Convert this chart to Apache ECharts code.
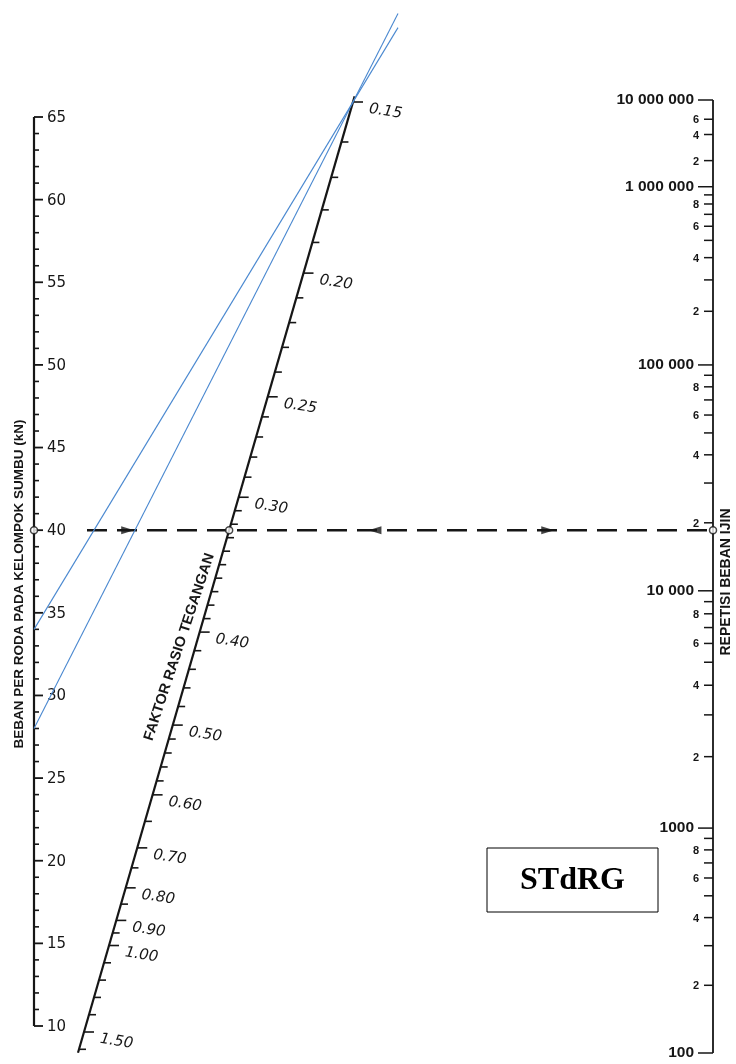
<!DOCTYPE html>
<html>
<head>
<meta charset="utf-8">
<script src="https://cdn.jsdelivr.net/npm/echarts@6/dist/echarts.min.js"></script>
<style>
  html, body { margin: 0; padding: 0; background: #ffffff; }
  #chart { width: 736px; height: 1064px; }
</style>
</head>
<body>
<div id="chart"></div>
<script>
// ---- values shown on the three nomogram scales ----
const loadLabels = [10, 15, 20, 25, 30, 35, 40, 45, 50, 55, 60, 65];          // kN
const ratioLabels = [0.15, 0.20, 0.25, 0.30, 0.40, 0.50, 0.60, 0.70, 0.80, 0.90, 1.00, 1.50];
const ratioMinor = [0.16, 0.17, 0.18, 0.19, 0.21, 0.22, 0.23, 0.24, 0.26, 0.27, 0.28, 0.29,
                    0.31, 0.32, 0.33, 0.34, 0.35, 0.36, 0.37, 0.38, 0.39,
                    0.42, 0.44, 0.46, 0.48, 0.52, 0.54, 0.56, 0.58,
                    0.65, 0.75, 0.85, 0.95, 1.1, 1.2, 1.3, 1.4, 1.6];
const repDecades = [100, 1000, 10000, 100000, 1000000, 10000000];
const repDecadeLabels = ['100', '1000', '10 000', '100 000', '1 000 000', '10 000 000'];
const repSubTicks = [2, 3, 4, 5, 6, 7, 8, 9];
const repSubLabels = [2, 4, 6, 8];
const repTopSubTicks = [2, 4, 6];

// ---- worked reading and guide lines ----
const readingLoad = 40;            // kN, read across horizontally
const guideLoads = [34, 28];       // kN, lines through the 0.15 point
const guidePivotRatio = 0.15;

// ---- scale geometry on the sheet ----
const INK = '#161616';
const loadScale = { x: 34, top: 117, bottom: 1026, min: 10, max: 65 };
const ratioScale = {
  from: [353, 102], to: [84, 1032],
  // stress-ratio value -> fraction of the scale length (non-linear scale)
  knots: [[0.15, 0], [0.16, 0.043], [0.17, 0.081], [0.18, 0.116], [0.19, 0.151], [0.20, 0.184],
          [0.25, 0.317], [0.30, 0.425], [0.40, 0.570], [0.50, 0.670], [0.60, 0.745],
          [0.70, 0.802], [0.80, 0.845], [0.90, 0.880], [1.00, 0.907], [1.50, 1.0]]
};
const repScale = { x: 713, top: 100, bottom: 1053, decadeStops: [0, 0.236, 0.485, 0.722, 0.909, 1] };

function loadPos(v) {
  const t = (v - loadScale.min) / (loadScale.max - loadScale.min);
  return [loadScale.x, loadScale.bottom + t * (loadScale.top - loadScale.bottom)];
}
function ratioFrac(v) {
  const k = ratioScale.knots;
  let i = 0;
  while (i < k.length - 2 && v > k[i + 1][0]) i++;
  const a = k[i], b = k[i + 1];
  return a[1] + (v - a[0]) / (b[0] - a[0]) * (b[1] - a[1]);
}
function ratioAt(f) {
  const p = ratioScale.from, q = ratioScale.to;
  return [p[0] + f * (q[0] - p[0]), p[1] + f * (q[1] - p[1])];
}
function ratioPos(v) { return ratioAt(ratioFrac(v)); }
function ratioAxisAtY(y) {
  const p = ratioScale.from, q = ratioScale.to;
  return [p[0] + (y - p[1]) / (q[1] - p[1]) * (q[0] - p[0]), y];
}
function repPos(n) {
  const lg = Math.log10(n) - Math.log10(repDecades[0]);
  const i = Math.min(Math.floor(lg + 1e-9), repScale.decadeStops.length - 2);
  const s = repScale.decadeStops;
  const f = s[i] + (lg - i) * (s[i + 1] - s[i]);
  return [repScale.x, repScale.bottom - f * (repScale.bottom - repScale.top)];
}

// ---- tick lists ----
const loadTicks = [];
for (let v = loadLabels[0]; v <= loadLabels[loadLabels.length - 1]; v++) loadTicks.push([v]);

const ratioTicks = ratioLabels.map(v => [v, 1]).concat(ratioMinor.map(v => [v, 0]));

const repTicks = [];
repDecades.forEach((d, i) => {
  repTicks.push([d, 2, repDecadeLabels[i]]);
  if (i === repDecades.length - 1) return;
  const subs = i === repDecades.length - 2 ? repTopSubTicks : repSubTicks;
  subs.forEach(m => repTicks.push([d * m, repSubLabels.indexOf(m) >= 0 ? 1 : 0, String(m)]));
});

// ---- renderers ----
function loadTickItem(params, api) {
  const v = api.value(0);
  const p = api.coord(loadPos(v));
  const major = v % 5 === 0;
  const kids = [{ type: 'line', shape: { x1: p[0], y1: p[1], x2: p[0] + (major ? 9 : 5), y2: p[1] },
                  style: { stroke: INK, lineWidth: major ? 1.8 : 1.6 } }];
  if (major) kids.push({ type: 'text', x: p[0] + 13, y: p[1] + 1,
    style: { text: String(v), font: '15px "DejaVu Sans"', fill: INK, align: 'left', verticalAlign: 'middle' } });
  return { type: 'group', children: kids };
}
function ratioTickItem(params, api) {
  const v = api.value(0), major = api.value(1) === 1;
  const p = api.coord(ratioPos(v));
  const kids = [{ type: 'line', shape: { x1: p[0], y1: p[1], x2: p[0] + (major ? 10 : 7), y2: p[1] },
                  style: { stroke: INK, lineWidth: 1.6 } }];
  if (major) kids.push({ type: 'text', x: p[0] + 16, y: p[1] + 7, rotation: -0.15,
    style: { text: v.toFixed(2), font: 'italic 15px "DejaVu Sans"', fill: INK, align: 'left', verticalAlign: 'middle' } });
  return { type: 'group', children: kids };
}
function repTickItem(params, api) {
  const n = api.value(0), kind = api.value(1);
  const label = repTicks[params.dataIndex][2];
  const p = api.coord(repPos(n));
  const len = kind === 2 ? 15 : 9;
  const kids = [{ type: 'line', shape: { x1: p[0] - len, y1: p[1], x2: p[0], y2: p[1] },
                  style: { stroke: INK, lineWidth: 1.5 } }];
  if (kind === 2) kids.push({ type: 'text', x: p[0] - len - 4, y: p[1],
    style: { text: label, font: 'bold 15.5px "Liberation Sans"', fill: INK, align: 'right', verticalAlign: 'middle' } });
  if (kind === 1) kids.push({ type: 'text', x: p[0] - len - 5, y: p[1] + 1,
    style: { text: label, font: 'bold 11px "Liberation Sans"', fill: INK, align: 'right', verticalAlign: 'middle' } });
  return { type: 'group', children: kids };
}

// ---- reading line across the chart ----
const readY = loadPos(readingLoad)[1];
const readStart = [loadScale.x + 53, readY];
const readEnd = [repScale.x, readY];
const readMid = ratioAxisAtY(readY);
const arrowMarks = [[0.065, -90], [0.46, 90], [0.736, -90]].map(a =>
  ({ value: [readStart[0] + a[0] * (readEnd[0] - readStart[0]), readY], symbolRotate: a[1] }));

// ---- guide lines through the 0.15 point ----
const pivot = ratioPos(guidePivotRatio);
const guideSeries = guideLoads.map(L => {
  const a = loadPos(L);
  const t = (398 - a[0]) / (pivot[0] - a[0]);
  const end = [a[0] + t * (pivot[0] - a[0]), a[1] + t * (pivot[1] - a[1])];
  return { type: 'line', data: [a, end], symbol: 'none', z: 10, silent: true,
           lineStyle: { color: '#4a88d0', width: 1.1 } };
});

const midTitle = ratioAxisAtY(647);

const chart = echarts.init(document.getElementById('chart'), null, { renderer: 'canvas' });
chart.setOption({
  animation: false,
  backgroundColor: '#ffffff',
  grid: { left: 0, right: 0, top: 0, bottom: 0 },
  xAxis: { type: 'value', min: 0, max: 736, show: false },
  yAxis: { type: 'value', min: 0, max: 1064, inverse: true, show: false },
  series: [
    { type: 'line', data: [loadPos(loadScale.min), loadPos(loadScale.max)], symbol: 'none',
      lineStyle: { color: INK, width: 2.2 }, silent: true },
    { type: 'custom', data: loadTicks, renderItem: loadTickItem, silent: true },
    { type: 'line', data: [ratioAt(-0.006), ratioPos(1.62)], symbol: 'none',
      lineStyle: { color: INK, width: 2.2 }, silent: true },
    { type: 'custom', data: ratioTicks, renderItem: ratioTickItem, silent: true },
    { type: 'line', data: [repPos(repDecades[0]), repPos(repDecades[repDecades.length - 1])], symbol: 'none',
      lineStyle: { color: INK, width: 1.8 }, silent: true },
    { type: 'custom', data: repTicks.map(t => [t[0], t[1]]), renderItem: repTickItem, silent: true },
    { type: 'line', data: [readStart, readEnd], symbol: 'none', z: 4, silent: true,
      lineStyle: { color: INK, width: 2.6, type: [20, 10] } },
    { type: 'scatter', data: arrowMarks, symbol: 'triangle', symbolSize: [8, 13], z: 5, silent: true,
      itemStyle: { color: INK } },
    { type: 'scatter', data: [loadPos(readingLoad), readMid, readEnd], symbol: 'circle', symbolSize: 7, z: 6,
      silent: true, itemStyle: { color: '#ffffff', borderColor: INK, borderWidth: 1.5 } }
  ].concat(guideSeries),
  graphic: [
    { type: 'text', x: 19, y: 584, rotation: Math.PI / 2,
      style: { text: 'BEBAN PER RODA PADA KELOMPOK SUMBU (kN)', font: 'bold 13.5px "Liberation Sans"',
               fill: INK, align: 'center', verticalAlign: 'middle' } },
    { type: 'text', x: 726, y: 582, rotation: Math.PI / 2,
      style: { text: 'REPETISI BEBAN IJIN', font: 'bold 14px "Liberation Sans"',
               fill: INK, align: 'center', verticalAlign: 'middle' } },
    { type: 'text', x: midTitle[0] - 16, y: 647, rotation: 1.25,
      style: { text: 'FAKTOR RASIO TEGANGAN', font: 'bold 14.5px "Liberation Sans"',
               fill: INK, align: 'center', verticalAlign: 'middle' } },
    { type: 'rect', shape: { x: 487, y: 848, width: 171, height: 64 },
      style: { fill: '#ffffff', stroke: '#000000', lineWidth: 1 } },
    { type: 'text', x: 572.5, y: 881,
      style: { text: 'STdRG', font: 'bold 32px "Liberation Serif"', fill: '#000000',
               align: 'center', verticalAlign: 'middle' } }
  ]
});
</script>
</body>
</html>
